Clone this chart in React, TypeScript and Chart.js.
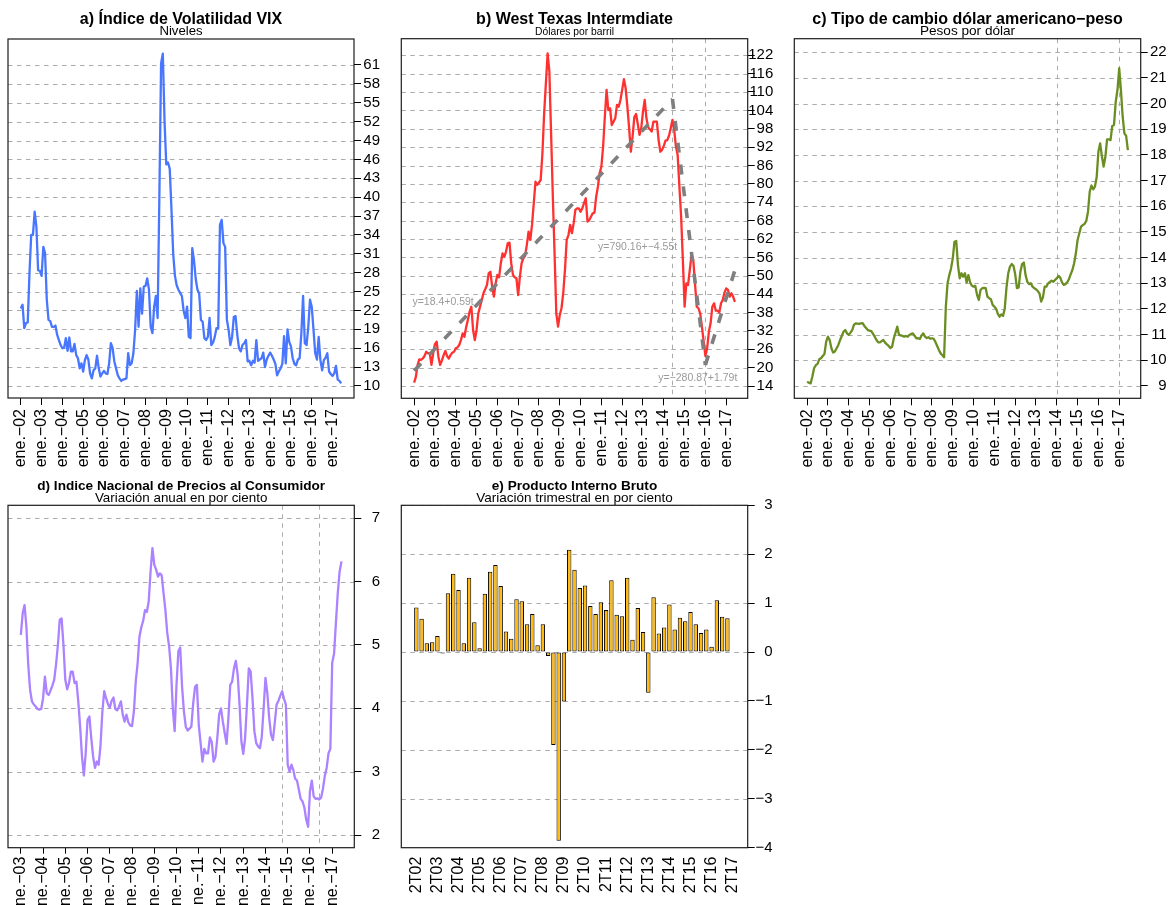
import React, { useEffect, useRef } from "react";
import { Chart, registerables } from "chart.js";

Chart.register(...registerables);

const FONT = "'Liberation Sans', Arial, Helvetica, sans-serif";
const MINUS = "\u2212";
const GRID = "#ababab";

// ---------------- data ----------------
// a) VIX, monthly, ene-2002 .. jun-2017
const vixMonthly: number[] = [
  22.3, 22.9, 19.2, 20.0, 20.1, 27.9, 34.0, 34.0, 37.7, 35.3,
  28.4, 28.3, 27.5, 32.1, 31.1, 23.7, 20.5, 20.3, 19.4, 19.4,
  19.6, 18.1, 17.3, 16.5, 16.0, 16.1, 17.6, 15.6, 17.7, 15.5,
  15.5, 16.7, 14.9, 14.4, 12.8, 13.6, 12.3, 14.1, 14.9, 14.2,
  12.0, 11.2, 12.5, 12.8, 14.8, 12.8, 11.5, 12.0, 12.4, 12.0,
  11.9, 13.6, 16.8, 16.0, 13.9, 12.8, 11.7, 11.2, 10.8, 11.0,
  11.1, 11.2, 15.2, 13.3, 13.6, 15.2, 18.9, 25.1, 19.4, 25.5,
  21.5, 25.8, 25.9, 27.1, 25.3, 19.4, 18.4, 22.6, 24.3, 20.8,
  40.0, 61.3, 62.8, 52.0, 45.2, 45.5, 44.5, 38.0, 31.0, 27.5,
  26.0, 25.3, 24.8, 24.3, 22.0, 20.8, 22.6, 17.8, 17.6, 31.9,
  30.0, 27.0, 25.3, 24.7, 20.5, 20.2, 17.6, 17.3, 17.8, 20.8,
  16.5, 16.9, 17.8, 19.2, 19.2, 35.6, 36.4, 32.7, 32.1, 20.5,
  18.9, 16.5, 17.8, 21.0, 21.1, 18.1, 16.0, 15.5, 16.5, 16.8,
  17.3, 13.9, 14.0, 13.3, 14.0, 13.7, 17.3, 14.0, 14.2, 14.4,
  15.3, 13.0, 14.2, 14.8, 15.3, 14.8, 14.2, 13.5, 11.7, 12.3,
  12.8, 13.5, 17.9, 13.6, 19.0, 17.0, 16.3, 14.4, 13.5, 13.3,
  14.2, 14.4, 18.4, 24.3, 16.8, 16.5, 19.4, 23.7, 22.6, 19.0,
  15.2, 14.2, 17.8, 14.1, 12.5, 14.1, 14.5, 15.2, 12.3, 11.9,
  11.6, 12.0, 13.2, 11.0, 10.8, 10.4,
];

// b) WTI, monthly, ene-2002 .. jun-2017
const wtiMonthly: number[] = [
  15.1, 17.0, 20.9, 22.7, 22.5, 23.0, 23.8, 25.2, 24.7, 24.7,
  20.9, 24.7, 27.7, 28.5, 23.6, 20.9, 22.3, 24.1, 25.5, 23.8,
  23.0, 24.1, 24.9, 25.2, 26.3, 26.6, 27.4, 29.0, 31.2, 30.1,
  33.2, 35.6, 38.3, 39.9, 32.3, 29.0, 32.3, 37.7, 39.9, 42.1,
  44.3, 45.6, 47.0, 50.8, 51.3, 46.4, 43.2, 47.5, 50.3, 49.5,
  54.1, 57.3, 56.2, 57.9, 60.6, 60.8, 54.1, 50.3, 49.5, 49.2,
  43.7, 49.7, 54.1, 55.7, 56.5, 60.1, 64.4, 61.7, 66.6, 73.7,
  80.7, 79.7, 80.4, 81.3, 90.0, 103.1, 112.9, 122.6, 116.7, 96.5,
  75.8, 57.3, 37.7, 33.4, 37.2, 39.4, 44.3, 51.9, 61.7, 63.3,
  66.6, 63.9, 67.1, 71.5, 72.0, 72.0, 70.9, 72.0, 73.7, 75.3,
  67.7, 68.2, 69.3, 70.4, 70.6, 75.8, 79.1, 83.5, 85.6, 92.2,
  102.0, 110.7, 104.1, 104.7, 99.2, 100.3, 101.4, 105.8, 105.2, 107.4,
  110.7, 114.2, 111.2, 105.2, 98.2, 90.5, 95.4, 101.8, 102.8, 99.6,
  96.0, 98.2, 103.6, 107.4, 101.4, 98.5, 97.8, 97.1, 100.3, 100.3,
  100.3, 94.3, 90.5, 91.1, 92.4, 94.1, 94.3, 95.7, 98.2, 100.9,
  97.6, 92.2, 89.4, 79.1, 69.3, 55.2, 39.9, 47.5, 47.0, 51.9,
  56.8, 55.2, 47.5, 39.9, 39.4, 37.7, 33.4, 28.5, 23.8, 26.3,
  31.7, 34.5, 39.9, 41.0, 38.6, 38.6, 38.0, 41.0, 42.1, 44.5,
  45.9, 45.4, 43.2, 44.3, 43.2, 41.5,
];

// b) trend segments (endpoints read from the picture)
const wtiTrend1X = [0, 149];
const wtiTrend1Y = [19.0, 107.7];
const wtiTrend2X = [149, 168];
const wtiTrend2Y = [107.7, 20.9];
const wtiTrend3X = [168, 185];
const wtiTrend3Y = [20.9, 51.8];
const wtiNoteX = [16.7, 128.9, 163.6];
const wtiNoteY = [41.5, 59.5, 16.5];
const wtiNoteText = ["y=18.4+0.59t", "y=790.16+" + MINUS + "4.55t", "y=" + MINUS + "280.87+1.79t"];
const wtiVLines = [148.7, 168];

// c) USD/MXN, monthly, ene-2002 .. jun-2017
const fxMonthly: number[] = [
  9.17, 9.13, 9.10, 9.36, 9.69, 9.81, 9.86, 10.04, 10.08, 10.17,
  10.25, 10.73, 10.92, 10.79, 10.47, 10.30, 10.34, 10.47, 10.60, 10.79,
  10.95, 11.12, 11.18, 11.05, 10.99, 11.08, 11.18, 11.38, 11.44, 11.43,
  11.42, 11.44, 11.45, 11.34, 11.26, 11.18, 11.16, 11.14, 11.03, 10.92,
  10.79, 10.70, 10.70, 10.75, 10.79, 10.69, 10.62, 10.56, 10.48, 10.53,
  10.86, 11.08, 11.31, 10.99, 10.97, 10.95, 10.92, 10.95, 10.92, 10.99,
  11.03, 11.05, 10.95, 10.86, 10.86, 10.83, 10.97, 11.05, 10.92, 10.87,
  10.90, 10.84, 10.86, 10.84, 10.71, 10.56, 10.40, 10.27, 10.20, 10.12,
  12.09, 13.00, 13.32, 13.58, 13.97, 14.62, 14.65, 13.71, 13.19, 13.39,
  13.26, 13.39, 13.03, 13.32, 13.04, 12.91, 12.87, 12.90, 12.55, 12.35,
  12.74, 12.81, 12.82, 12.81, 12.48, 12.42, 12.38, 12.16, 12.09, 12.01,
  11.81, 11.70, 11.79, 11.73, 12.03, 12.84, 13.39, 13.65, 13.75, 13.68,
  13.36, 12.81, 12.84, 13.45, 13.75, 13.81, 13.32, 13.06, 12.97, 13.00,
  12.87, 12.81, 12.77, 12.70, 12.61, 12.29, 12.45, 12.87, 12.87, 13.00,
  13.05, 13.10, 13.06, 13.13, 13.19, 13.29, 13.22, 13.04, 12.94, 12.97,
  13.04, 13.16, 13.35, 13.52, 13.78, 14.17, 14.69, 14.95, 15.21, 15.27,
  15.31, 15.43, 15.79, 16.57, 16.81, 16.66, 16.77, 17.13, 18.13, 18.45,
  17.96, 17.55, 17.91, 18.61, 18.61, 18.58, 19.13, 19.17, 20.08, 20.53,
  21.38, 20.53, 19.49, 18.84, 18.74, 18.19,
];
const fxVLines = [144, 180];

// d) INPC annual variation, monthly, ene-2003 .. jun-2017
const inpcMonthly: number[] = [
  5.16, 5.50, 5.63, 5.29, 4.69, 4.29, 4.11, 4.06, 4.03, 3.99,
  3.98, 3.99, 4.16, 4.50, 4.24, 4.21, 4.28, 4.36, 4.45, 4.69,
  5.00, 5.40, 5.42, 5.00, 4.45, 4.30, 4.40, 4.58, 4.58, 4.40,
  4.42, 4.11, 3.71, 3.24, 2.94, 3.29, 3.82, 3.87, 3.53, 3.24,
  3.06, 3.16, 3.11, 3.42, 3.95, 4.27, 4.16, 4.07, 4.01, 4.12,
  4.17, 3.99, 3.97, 4.03, 4.11, 3.90, 3.79, 3.90, 3.78, 3.73,
  3.72, 3.95, 4.42, 4.71, 5.13, 5.28, 5.38, 5.55, 5.52, 5.69,
  6.16, 6.53, 6.27, 6.19, 6.08, 6.13, 6.10, 5.82, 5.55, 5.19,
  4.98, 4.63, 4.00, 3.64, 4.37, 4.90, 4.96, 4.34, 3.95, 3.71,
  3.65, 3.68, 3.71, 4.08, 4.34, 4.37, 3.74, 3.45, 3.16, 3.36,
  3.29, 3.29, 3.54, 3.47, 3.16, 3.23, 3.53, 3.90, 4.00, 3.79,
  3.61, 3.44, 3.85, 4.37, 4.42, 4.63, 4.75, 4.53, 4.06, 3.48,
  3.28, 3.53, 4.06, 4.63, 4.58, 4.16, 3.64, 3.45, 3.40, 3.37,
  3.55, 4.00, 4.48, 4.24, 3.85, 3.58, 3.50, 3.77, 4.06, 4.12,
  4.20, 4.27, 4.15, 4.06, 3.11, 3.00, 3.11, 3.03, 2.89, 2.86,
  2.72, 2.57, 2.53, 2.43, 2.24, 2.13, 2.69, 2.86, 2.61, 2.57,
  2.58, 2.56, 2.59, 2.73, 2.93, 3.06, 3.29, 3.36, 4.72, 4.86,
  5.35, 5.82, 6.16, 6.32,
];
const inpcVLines = [141, 161];

// e) PIB quarterly variation, 2T02 .. 2T17 (last quarter not shown)
const pibQuarterly: (number | null)[] = [
  0.91, 0.68, 0.18, 0.20, 0.33, -0.03, 1.20, 1.60, 1.27, 0.18,
  1.52, 0.61, 0.08, 1.19, 1.64, 1.78, 1.35, 0.42, 0.27, 1.08,
  1.04, 0.57, 0.78, 0.14, 0.57, -0.08, -1.90, -3.86, -1.01, 2.09,
  1.68, 1.31, 1.36, 0.94, 0.78, 1.02, 0.86, 1.47, 0.76, 0.73,
  1.52, 0.25, 0.90, 0.41, -0.83, 1.12, 0.38, 0.50, 0.97, 0.46,
  0.70, 0.63, 0.82, 0.57, 0.39, 0.46, 0.11, 1.06, 0.72, 0.69, null,
];

// tick positions and labels
const monthTicks02 = [0, 12, 24, 36, 48, 60, 72, 84, 96, 108, 120, 132, 144, 156, 168, 180];
const monthLabels02 = ["ene.−02", "ene.−03", "ene.−04", "ene.−05", "ene.−06", "ene.−07", "ene.−08", "ene.−09", "ene.−10", "ene.−11", "ene.−12", "ene.−13", "ene.−14", "ene.−15", "ene.−16", "ene.−17"];
const monthTicks03 = [0, 12, 24, 36, 48, 60, 72, 84, 96, 108, 120, 132, 144, 156, 168];
const monthLabels03 = ["ene.−03", "ene.−04", "ene.−05", "ene.−06", "ene.−07", "ene.−08", "ene.−09", "ene.−10", "ene.−11", "ene.−12", "ene.−13", "ene.−14", "ene.−15", "ene.−16", "ene.−17"];
const quarterTicks = [0, 4, 8, 12, 16, 20, 24, 28, 32, 36, 40, 44, 48, 52, 56, 60];
const quarterLabels = ["2T02", "2T03", "2T04", "2T05", "2T06", "2T07", "2T08", "2T09", "2T10", "2T11", "2T12", "2T13", "2T14", "2T15", "2T16", "2T17"];

const vixTicks = [10, 13, 16, 19, 22, 25, 28, 31, 34, 37, 40, 43, 46, 49, 52, 55, 58, 61];
const wtiTicks = [14, 20, 26, 32, 38, 44, 50, 56, 62, 68, 74, 80, 86, 92, 98, 104, 110, 116, 122];
const fxTicks = [9, 10, 11, 12, 13, 14, 15, 16, 17, 18, 19, 20, 21, 22];
const inpcTicks = [2, 3, 4, 5, 6, 7];
const pibTicks = [-4, -3, -2, -1, 0, 1, 2, 3];

// ---------------- helpers ----------------
const fmt = (v: number) => String(v).replace("-", MINUS);

interface PanelSpec {
  canvasWidth: number;
  title: string;
  subtitle: string;
  titleSize: number;
  subSize: number;
  titleY: number;
  subY: number;
  plotTop: number;
  plotLeft: number;
  plotRight: number;
  xAxisHeight: number;
  xMin: number;
  xMax: number;
  xTicks: number[];
  xLabels: string[];
  xTickLen: number;
  xLabelPad: number;
  yMin: number;
  yMax: number;
  yTicks: number[];
  yLabelRight: number;
  vlines: number[];
  noteX?: number[];
  noteY?: number[];
  noteText?: string[];
}

function decorPlugin(s: PanelSpec) {
  return {
    id: "panelDecor",
    beforeDatasetsDraw(chart: any) {
      const { ctx, chartArea: a } = chart;
      const xs = chart.scales.x;
      const ys = chart.scales.y;
      ctx.save();
      ctx.beginPath();
      ctx.rect(a.left, a.top, a.right - a.left, a.bottom - a.top);
      ctx.clip();
      ctx.strokeStyle = GRID;
      ctx.lineWidth = 1;
      ctx.setLineDash([4.5, 4.5]);
      s.yTicks.forEach((v) => {
        const y = Math.round(ys.getPixelForValue(v)) + 0.5;
        ctx.beginPath();
        ctx.moveTo(a.left, y);
        ctx.lineTo(a.right, y);
        ctx.stroke();
      });
      s.vlines.forEach((v) => {
        const x = Math.round(xs.getPixelForValue(v)) + 0.5;
        ctx.beginPath();
        ctx.moveTo(x, a.top);
        ctx.lineTo(x, a.bottom);
        ctx.stroke();
      });
      ctx.restore();
    },
    afterDraw(chart: any) {
      const { ctx, chartArea: a } = chart;
      const xs = chart.scales.x;
      const ys = chart.scales.y;
      ctx.save();
      if (s.noteText) {
        ctx.fillStyle = "#9a9a9a";
        ctx.font = `10.5px ${FONT}`;
        ctx.textAlign = "center";
        ctx.textBaseline = "middle";
        s.noteText.forEach((t, i) => {
          ctx.fillText(t, xs.getPixelForValue(s.noteX![i]), ys.getPixelForValue(s.noteY![i]));
        });
      }
      ctx.strokeStyle = "#1c1c1c";
      ctx.lineWidth = 1.2;
      ctx.strokeRect(a.left, a.top, a.right - a.left, a.bottom - a.top);
      ctx.restore();
    },
  };
}

function buildOptions(s: PanelSpec) {
  const titleBottom = s.titleY + 0.3 * s.titleSize;
  const rightPad = s.canvasWidth - s.plotRight - s.yLabelRight;
  return {
    responsive: false,
    maintainAspectRatio: false,
    animation: false,
    devicePixelRatio: 1,
    events: [],
    layout: { padding: { left: s.plotLeft, top: 0, right: rightPad, bottom: 0 } },
    plugins: {
      legend: { display: false },
      tooltip: { enabled: false },
      title: {
        display: true,
        text: s.title,
        color: "#000",
        fullSize: false,
        align: "center",
        font: { family: FONT, size: s.titleSize, weight: "bold", lineHeight: 0.6 },
        padding: { top: s.titleY - 0.3 * s.titleSize, bottom: 0 },
      },
      subtitle: {
        display: true,
        text: s.subtitle,
        color: "#000",
        fullSize: false,
        align: "center",
        font: { family: FONT, size: s.subSize, weight: "normal", lineHeight: 0.6 },
        padding: {
          top: s.subY - 0.3 * s.subSize - titleBottom,
          bottom: s.plotTop - (s.subY + 0.3 * s.subSize),
        },
      },
    },
    scales: {
      x: {
        type: "linear",
        position: "bottom",
        min: s.xMin,
        max: s.xMax,
        offset: false,
        afterFit: (sc: any) => {
          sc.height = s.xAxisHeight;
        },
        afterBuildTicks: (sc: any) => {
          sc.ticks = s.xTicks.map((v) => ({ value: v }));
        },
        grid: {
          display: s.xTickLen > 0,
          drawOnChartArea: false,
          drawTicks: s.xTickLen > 0,
          tickLength: s.xTickLen,
          tickColor: "#000",
          tickWidth: 1,
          color: "#000",
        },
        border: { display: false },
        ticks: {
          autoSkip: false,
          minRotation: 90,
          maxRotation: 90,
          padding: s.xLabelPad,
          color: "#000",
          font: { family: FONT, size: 16 },
          callback: (_v: any, i: number) => s.xLabels[i],
        },
      },
      y: {
        type: "linear",
        position: "right",
        min: s.yMin,
        max: s.yMax,
        afterFit: (sc: any) => {
          sc.width = s.yLabelRight;
        },
        afterBuildTicks: (sc: any) => {
          sc.ticks = s.yTicks.map((v) => ({ value: v }));
        },
        grid: {
          display: true,
          drawOnChartArea: false,
          drawTicks: true,
          tickLength: 7,
          tickColor: "#000",
          tickWidth: 1,
          color: "#000",
        },
        border: { display: false },
        ticks: {
          autoSkip: false,
          crossAlign: "far",
          padding: 2,
          color: "#000",
          font: { family: FONT, size: 15 },
          callback: (v: any) => fmt(v),
        },
      },
    },
  };
}

function lineDataset(values: number[], color: string) {
  return {
    data: values.map((v, i) => ({ x: i, y: v })),
    borderColor: color,
    backgroundColor: color,
    borderWidth: 2.3,
    pointRadius: 0,
    tension: 0,
    fill: false,
    borderJoinStyle: "round",
    order: 1,
  };
}

function trendDataset(xs: number[], ys: number[]) {
  return {
    data: xs.map((x, i) => ({ x, y: ys[i] })),
    borderColor: "#7f7f7f",
    borderWidth: 3.6,
    borderDash: [10, 12],
    borderCapStyle: "butt",
    pointRadius: 0,
    tension: 0,
    fill: false,
    order: 0,
  };
}

// ---------------- panels ----------------
const specA: PanelSpec = {
  canvasWidth: 390,
  title: "a) Índice de Volatilidad VIX",
  subtitle: "Niveles",
  titleSize: 16,
  subSize: 13.2,
  titleY: 19.2,
  subY: 31.5,
  plotTop: 39,
  plotLeft: 8,
  plotRight: 354,
  xAxisHeight: 72,
  xMin: -7.4,
  xMax: 192.4,
  xTicks: monthTicks02,
  xLabels: monthLabels02,
  xTickLen: 7,
  xLabelPad: 4,
  yMin: 8.09,
  yMax: 65.13,
  yTicks: vixTicks,
  yLabelRight: 26,
  vlines: [],
};

const specB: PanelSpec = {
  canvasWidth: 390,
  title: "b) West Texas Intermdiate",
  subtitle: "Dólares por barril",
  titleSize: 16,
  subSize: 10.3,
  titleY: 19.2,
  subY: 32,
  plotTop: 38.7,
  plotLeft: 11.3,
  plotRight: 357.7,
  xAxisHeight: 71.7,
  xMin: -7.4,
  xMax: 192.4,
  xTicks: monthTicks02,
  xLabels: monthLabels02,
  xTickLen: 7,
  xLabelPad: 4,
  yMin: 10.0,
  yMax: 127.4,
  yTicks: wtiTicks,
  yLabelRight: 25.6,
  vlines: wtiVLines,
  noteX: wtiNoteX,
  noteY: wtiNoteY,
  noteText: wtiNoteText,
};

const specC: PanelSpec = {
  canvasWidth: 388,
  title: "c) Tipo de cambio dólar americano−peso",
  subtitle: "Pesos por dólar",
  titleSize: 16,
  subSize: 13.6,
  titleY: 19.2,
  subY: 30.8,
  plotTop: 38.7,
  plotLeft: 14.3,
  plotRight: 360.7,
  xAxisHeight: 71.7,
  xMin: -7.4,
  xMax: 192.4,
  xTicks: monthTicks02,
  xLabels: monthLabels02,
  xTickLen: 7,
  xLabelPad: 4,
  yMin: 8.52,
  yMax: 22.53,
  yTicks: fxTicks,
  yLabelRight: 26,
  vlines: fxVLines,
};

const specD: PanelSpec = {
  canvasWidth: 390,
  title: "d) Indice Nacional de Precios al Consumidor",
  subtitle: "Variación anual en por ciento",
  titleSize: 13.6,
  subSize: 13.4,
  titleY: 16.7,
  subY: 28.2,
  plotTop: 35.3,
  plotLeft: 8,
  plotRight: 354.3,
  xAxisHeight: 57.3,
  xMin: -6.92,
  xMax: 179.92,
  xTicks: monthTicks03,
  xLabels: monthLabels03,
  xTickLen: 6,
  xLabelPad: 3,
  yMin: 1.8,
  yMax: 7.205,
  yTicks: inpcTicks,
  yLabelRight: 25.7,
  vlines: inpcVLines,
};

const specE: PanelSpec = {
  canvasWidth: 390,
  title: "e) Producto Interno Bruto",
  subtitle: "Variación trimestral en por ciento",
  titleSize: 13.6,
  subSize: 13.5,
  titleY: 16.2,
  subY: 27.9,
  plotTop: 35.3,
  plotLeft: 11.3,
  plotRight: 357.7,
  xAxisHeight: 57.3,
  xMin: -2.85,
  xMax: 62.85,
  xTicks: quarterTicks,
  xLabels: quarterLabels,
  xTickLen: 0,
  xLabelPad: 9,
  yMin: -4,
  yMax: 3,
  yTicks: pibTicks,
  yLabelRight: 25,
  vlines: [],
};

function makeConfig(id: string): any {
  if (id === "a") {
    return {
      type: "line",
      data: { datasets: [lineDataset(vixMonthly, "#4876FF")] },
      options: buildOptions(specA),
      plugins: [decorPlugin(specA)],
    };
  }
  if (id === "b") {
    return {
      type: "line",
      data: {
        datasets: [
          trendDataset(wtiTrend1X, wtiTrend1Y),
          trendDataset(wtiTrend2X, wtiTrend2Y),
          trendDataset(wtiTrend3X, wtiTrend3Y),
          lineDataset(wtiMonthly, "#FF3030"),
        ],
      },
      options: buildOptions(specB),
      plugins: [decorPlugin(specB)],
    };
  }
  if (id === "c") {
    return {
      type: "line",
      data: { datasets: [lineDataset(fxMonthly, "#6B8E23")] },
      options: buildOptions(specC),
      plugins: [decorPlugin(specC)],
    };
  }
  if (id === "d") {
    return {
      type: "line",
      data: { datasets: [lineDataset(inpcMonthly, "#AB82FF")] },
      options: buildOptions(specD),
      plugins: [decorPlugin(specD)],
    };
  }
  return {
    type: "bar",
    data: {
      datasets: [
        {
          data: pibQuarterly.map((v, i) => ({ x: i, y: v })),
          backgroundColor: "#FFB90F",
          borderColor: "#000",
          borderWidth: 1,
          borderSkipped: false,
          barPercentage: 0.833,
          categoryPercentage: 1,
        },
      ],
    },
    options: buildOptions(specE),
    plugins: [decorPlugin(specE)],
  };
}

function Panel(props: { id: string; left: number; top: number; width: number; height: number }) {
  const ref = useRef<HTMLCanvasElement>(null);
  useEffect(() => {
    const chart = new Chart(ref.current!, makeConfig(props.id));
    return () => chart.destroy();
  }, [props.id]);
  return (
    <canvas
      ref={ref}
      width={props.width}
      height={props.height}
      style={{ position: "absolute", left: props.left, top: props.top, width: props.width, height: props.height }}
    />
  );
}

export default function App() {
  return (
    <div style={{ position: "absolute", left: 0, top: 0, width: 1168, height: 905, background: "#fff", overflow: "hidden" }}>
      <Panel id="a" left={0} top={0} width={390} height={470} />
      <Panel id="b" left={390} top={0} width={390} height={470} />
      <Panel id="c" left={780} top={0} width={388} height={470} />
      <Panel id="d" left={0} top={470} width={390} height={435} />
      <Panel id="e" left={390} top={470} width={390} height={435} />
    </div>
  );
}
